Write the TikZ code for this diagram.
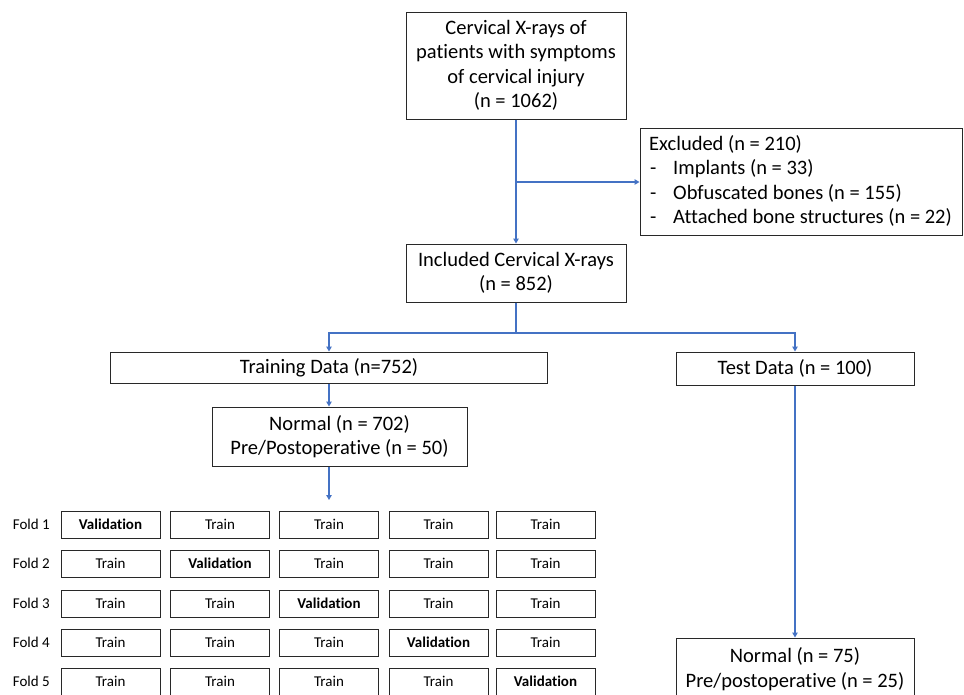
\documentclass[tikz,border=0pt]{standalone}
\usepackage{fontspec}
\setmainfont[Ligatures=NoCommon]{Carlito}
\usetikzlibrary{arrows.meta}
\definecolor{lineblue}{RGB}{68,114,196}
\definecolor{boxline}{RGB}{40,40,40}
\tikzset{
  box/.style={draw=boxline, line width=1pt, inner sep=0pt, align=center, font=\fontsize{20.5}{24.5}\selectfont},
  txt/.style={inner sep=0pt, font=\fontsize{20.5}{24.5}\selectfont},
  foldbox/.style={draw=boxline, line width=1pt, minimum width=99pt, minimum height=27pt, inner sep=0pt, font=\fontsize{15}{17}\selectfont},
  foldlbl/.style={inner sep=0pt, font=\fontsize{15}{17}\selectfont},
  arr/.style={draw=lineblue, line width=1.1pt, -{Triangle[length=5pt,width=5.5pt]}},
  ln/.style={draw=lineblue, line width=1.1pt},
}
\begin{document}
\begin{tikzpicture}[x=1pt,y=-1pt]
\useasboundingbox (0,0) rectangle (964,694);
\clip (0,0) rectangle (964,694);
\node[box, minimum width=220pt, minimum height=107pt] (top) at (516,65.5) {Cervical X-rays of\\patients with symptoms\\of cervical injury\\(n = 1062)};
\node[box, minimum width=322pt, minimum height=107pt] (excl) at (801,181.5) {};
\node[txt, anchor=base west] (ex0) at (649,150) {Excluded (n = 210)};
\node[txt, anchor=base west] (d1) at (650,174.5) {-};
\node[txt, anchor=base west] (ex1) at (673,174.5) {Implants (n = 33)};
\node[txt, anchor=base west] (d2) at (650,199) {-};
\node[txt, anchor=base west] (ex2) at (673,199) {Obfuscated bones (n = 155)};
\node[txt, anchor=base west] (d3) at (650,223.5) {-};
\node[txt, anchor=base west] (ex3) at (673,223.5) {Attached bone structures (n = 22)};
\node[box, minimum width=220pt, minimum height=58pt] (incl) at (516,273) {Included Cervical X-rays\\(n = 852)};
\node[box, minimum width=437pt, minimum height=31pt] (train) at (329,367.5) {Training Data (n=752)};
\node[box, minimum width=238pt, minimum height=33pt] (test) at (795,368.5) {Test Data (n = 100)};
\node[box, minimum width=255pt, minimum height=59pt] (norm) at (339.5,436.5) {Normal (n = 702)\\Pre/Postoperative (n = 50)};
\node[box, minimum width=238pt, minimum height=62pt] (res) at (795,669) {Normal (n = 75)\\Pre/postoperative (n = 25)};
% connectors
\coordinate (j1) at (516,182);
\coordinate (j2) at (516,333);
\coordinate (fa) at (329,500);
\draw[arr] (top.south) -- (incl.north);
\draw[arr] (j1) -- (excl.west |- j1);
\draw[ln] (incl.south) -- (j2);
\draw[arr] (j2) -| (train.north);
\draw[arr] (j2) -| (test.north);
\draw[arr] (train.south) -- (train.south |- norm.north);
\draw[arr] (fa |- norm.south) -- (fa);
\draw[arr] (test.south) -- (res.north);
% folds
\foreach \r/\y in {1/524.5,2/563.5,3/603.5,4/642.5,5/681.5}{
  \node[foldlbl, anchor=east] (fl\r) at (50,\y) {Fold \r};
  \foreach \c/\x in {1/110.5,2/220,3/329,4/438.5,5/545.5}{
    \ifnum\r=\c
      \node[foldbox, font=\fontsize{15}{17}\selectfont\bfseries] (f\r\c) at (\x,\y) {Validation};
    \else
      \node[foldbox] (f\r\c) at (\x,\y) {Train};
    \fi
  }
}
\end{tikzpicture}
\end{document}
